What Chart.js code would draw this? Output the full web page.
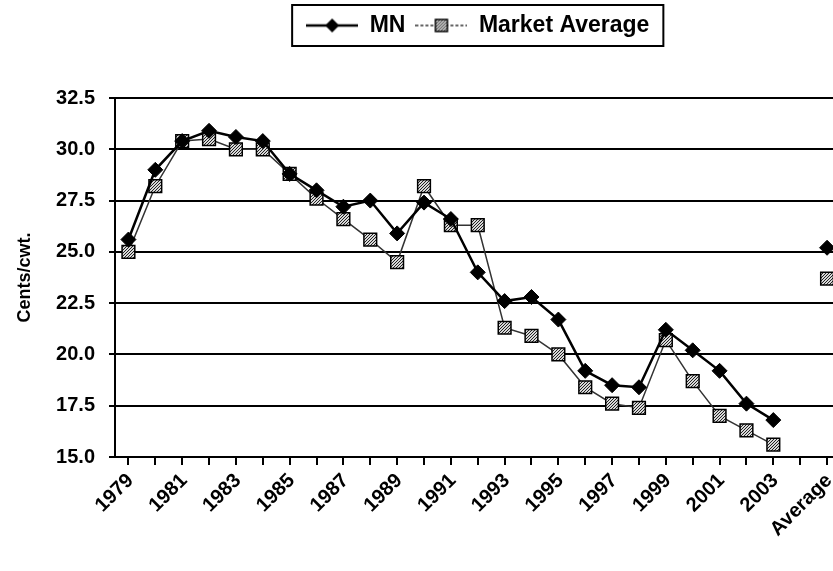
<!DOCTYPE html>
<html>
<head>
<meta charset="utf-8">
<script src="https://cdn.jsdelivr.net/npm/chart.js@4"></script>
<style>
  html, body { margin: 0; padding: 0; background: #fff; overflow: hidden; }
  canvas { display: block; }
</style>
</head>
<body>
<canvas id="priceChart" width="851" height="571"></canvas>
<script>
// Categorias del eje X (la posicion vacia separa el promedio)
const categories = [
    '1979', '1980', '1981', '1982', '1983', '1984', '1985', '1986', '1987',
    '1988', '1989', '1990', '1991', '1992', '1993', '1994', '1995', '1996',
    '1997', '1998', '1999', '2000', '2001', '2002', '2003', '', 'Average'
];

// Valores (centavos por cwt)
const mnValues = [
    25.6, 29.0, 30.4, 30.9, 30.6, 30.4, 28.8, 28.0, 27.2,
    27.5, 25.9, 27.4, 26.6, 24.0, 22.6, 22.8, 21.7, 19.2,
    18.5, 18.4, 21.2, 20.2, 19.2, 17.6, 16.8, null, 25.2
];
const marketValues = [
    25.0, 28.2, 30.4, 30.5, 30.0, 30.0, 28.8, 27.6, 26.6,
    25.6, 24.5, 28.2, 26.3, 26.3, 21.3, 20.9, 20.0, 18.4,
    17.6, 17.4, 20.7, 18.7, 17.0, 16.3, 15.6, null, 23.7
];

const yMin = 15.0;
const yMax = 32.5;
const yStep = 2.5;

const fontFamily = '"Liberation Sans", Arial, sans-serif';

// Relleno punteado para los cuadros del promedio de mercado
function makeDotPattern() {
    const c = document.createElement('canvas');
    c.width = 3;
    c.height = 3;
    const g = c.getContext('2d');
    g.fillStyle = '#d8d8d8';
    g.fillRect(0, 0, 3, 3);
    g.fillStyle = '#222';
    g.fillRect(0, 0, 1, 1);
    g.fillRect(2, 1, 1, 1);
    g.fillRect(1, 2, 1, 1);
    return g.createPattern(c, 'repeat');
}

// Muestra de leyenda: linea con el marcador en medio
function makeLegendSample(kind, pattern) {
    const c = document.createElement('canvas');
    c.width = 52;
    c.height = 18;
    const g = c.getContext('2d');
    g.strokeStyle = kind === 'mn' ? '#000' : '#333';
    g.lineWidth = kind === 'mn' ? 2.5 : 1.5;
    if (kind !== 'mn') g.setLineDash([3, 2]);
    g.beginPath();
    g.moveTo(0, 9);
    g.lineTo(52, 9);
    g.stroke();
    g.setLineDash([]);
    if (kind === 'mn') {
        g.fillStyle = '#000';
        g.beginPath();
        g.moveTo(26, 2);
        g.lineTo(33, 9);
        g.lineTo(26, 16);
        g.lineTo(19, 9);
        g.closePath();
        g.fill();
    } else {
        g.fillStyle = pattern;
        g.fillRect(20, 3, 12, 12);
        g.strokeStyle = '#000';
        g.lineWidth = 1.5;
        g.strokeRect(20, 3, 12, 12);
    }
    return c;
}

const dotPattern = makeDotPattern();
const legendSamples = [makeLegendSample('mn', dotPattern), makeLegendSample('ma', dotPattern)];

// Espacio extra bajo la leyenda y recuadro alrededor de ella
const legendFrame = {
    id: 'legendFrame',
    afterInit(chart) {
        const legend = chart.legend;
        if (!legend || legend._extraSpace) return;
        const origFit = legend.fit;
        legend.fit = function() {
            origFit.call(this);
            this.height += 51;
        };
        legend._extraSpace = true;
    },
    afterDraw(chart) {
        const boxes = chart.legend && chart.legend.legendHitBoxes;
        if (!boxes || !boxes.length) return;
        const left = Math.min(...boxes.map(b => b.left)) - 14;
        const right = Math.max(...boxes.map(b => b.left + b.width)) + 14;
        const top = Math.min(...boxes.map(b => b.top)) - 9;
        const bottom = Math.max(...boxes.map(b => b.top + b.height)) + 9;
        const ctx = chart.ctx;
        ctx.save();
        ctx.strokeStyle = '#000';
        ctx.lineWidth = 2;
        ctx.strokeRect(left, top, right - left, bottom - top);
        ctx.restore();
    }
};

const ctx = document.getElementById('priceChart').getContext('2d');
new Chart(ctx, {
    type: 'line',
    data: {
        labels: categories,
        datasets: [{
            label: 'MN',
            data: mnValues,
            borderColor: '#000',
            borderWidth: 2.5,
            backgroundColor: '#000',
            pointStyle: 'rectRot',
            pointRadius: 7.5,
            pointBorderWidth: 1,
            pointBorderColor: '#000',
            pointBackgroundColor: '#000',
            spanGaps: false,
            tension: 0
        }, {
            label: 'Market Average',
            data: marketValues,
            borderColor: '#333',
            borderWidth: 1.5,
            backgroundColor: dotPattern,
            pointStyle: 'rect',
            pointRadius: 9,
            pointBorderWidth: 1.5,
            pointBorderColor: '#000',
            pointBackgroundColor: dotPattern,
            spanGaps: false,
            tension: 0
        }]
    },
    options: {
        responsive: false,
        animation: false,
        layout: {
            padding: { top: 4, left: 0, right: 0, bottom: 0 }
        },
        plugins: {
            legend: {
                position: 'top',
                fullSize: false,
                labels: {
                    usePointStyle: true,
                    pointStyleWidth: 52,
                    padding: 10,
                    color: '#000',
                    font: { family: fontFamily, size: 23, weight: 'bold' },
                    generateLabels: function(chart) {
                        const items = Chart.defaults.plugins.legend.labels.generateLabels(chart);
                        items.forEach((item, i) => { item.pointStyle = legendSamples[i]; });
                        return items;
                    }
                }
            },
            tooltip: { enabled: false }
        },
        scales: {
            x: {
                offset: true,
                afterFit: function(scale) { scale.height = 114; },
                border: { display: true, color: '#000', width: 2 },
                grid: {
                    display: true,
                    drawOnChartArea: false,
                    drawTicks: true,
                    tickLength: 8,
                    color: '#000',
                    lineWidth: 2
                },
                ticks: {
                    autoSkip: false,
                    maxRotation: 45,
                    minRotation: 45,
                    padding: 4,
                    labelOffset: 2,
                    color: '#000',
                    font: { family: fontFamily, size: 20, weight: 'bold' },
                    callback: function(value, index) {
                        return index % 2 === 0 ? this.getLabelForValue(value) : '';
                    }
                }
            },
            y: {
                min: yMin,
                max: yMax,
                afterFit: function(scale) { scale.width = 115; },
                border: { display: true, color: '#000', width: 2 },
                grid: {
                    color: '#000',
                    lineWidth: 2,
                    drawTicks: true,
                    tickLength: 6
                },
                ticks: {
                    stepSize: yStep,
                    padding: 14,
                    color: '#000',
                    font: { family: fontFamily, size: 20, weight: 'bold' },
                    callback: value => value.toFixed(1)
                },
                title: {
                    display: true,
                    text: 'Cents/cwt.',
                    color: '#000',
                    padding: { top: 14, bottom: 0 },
                    font: { family: fontFamily, size: 18, weight: 'bold' }
                }
            }
        }
    },
    plugins: [legendFrame]
});
</script>
</body>
</html>
